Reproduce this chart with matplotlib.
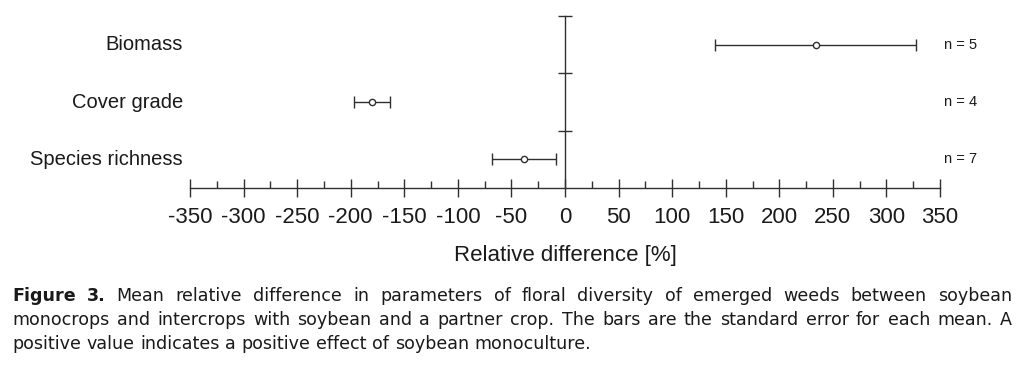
import numpy as np
from matplotlib import pyplot as plt
from matplotlib.ticker import MultipleLocator

plt.rcParams["axes.unicode_minus"] = False

categories = ["Species richness", "Cover grade", "Biomass"]
means = [-38, -180, 234]
errors = [30, 17, 94]
n_obs = [7, 4, 5]

caption_lines = [
    "Figure 3. Mean relative difference in parameters of floral diversity of emerged weeds between soybean",
    "monocrops and intercrops with soybean and a partner crop. The bars are the standard error for each mean. A",
    "positive value indicates a positive effect of soybean monoculture.",
]

W, H = 1024, 371
line_col = "#303030"
text_col = "#1a1a1a"

fig = plt.figure(figsize=(W / 100, H / 100), dpi=100)
ax = fig.add_axes([190 / W, 1 - 188 / H, 750 / W, 172 / H])
ax.patch.set_alpha(0)

ypos = np.arange(len(categories)) + 0.5
ax.errorbar(means, ypos, xerr=errors, fmt="o", mfc="white", mec=line_col, ms=4.5, mew=1,
            ecolor=line_col, elinewidth=1, capsize=4, capthick=1, zorder=3)

ax.set_xlim(-350, 350)
ax.set_ylim(0, 3)
for s in ["top", "right"]:
    ax.spines[s].set_visible(False)
ax.spines["left"].set_position(("data", 0))
for s in ["left", "bottom"]:
    ax.spines[s].set_color(line_col)
    ax.spines[s].set_linewidth(1)

ax.set_yticks([1, 2, 3])
ax.tick_params(axis="y", direction="inout", length=10, width=1, color=line_col, labelleft=False)
ax.xaxis.set_major_locator(MultipleLocator(50))
ax.xaxis.set_minor_locator(MultipleLocator(25))
ax.tick_params(axis="x", which="major", direction="inout", length=13, width=1, color=line_col,
               pad=7, labelsize=16, labelcolor=text_col)
ax.tick_params(axis="x", which="minor", direction="in", length=5, width=1, color=line_col)
for lab in ax.get_xticklabels():
    lab.set_family("Liberation Sans")

for y, cat, n in zip(ypos, categories, n_obs):
    ax.annotate(cat, xy=(0, y), xycoords=("axes fraction", "data"), xytext=(-5, 0),
                textcoords="offset points", ha="right", va="center", fontsize=14.5,
                family="Liberation Sans", color=text_col)
    ax.annotate(f"n = {n}", xy=(1, y), xycoords=("axes fraction", "data"), xytext=(3, 0),
                textcoords="offset points", ha="left", va="center", fontsize=10.5,
                family="Liberation Sans", color=text_col)

fig.text(565 / W, 1 - 256 / H, "Relative difference [%]", ha="center", va="center",
         fontsize=16, family="Liberation Sans", color=text_col)

# caption, justified word by word like the source
renderer = fig.canvas.get_renderer()
cap_size = 12.6
x0, x1 = 12, 1012
line_y = [296, 320, 344]
t1 = fig.text(0, 0, "a a", fontsize=cap_size, family="DejaVu Sans")
t2 = fig.text(0, 0, "aa", fontsize=cap_size, family="DejaVu Sans")
space_w = t1.get_window_extent(renderer).width - t2.get_window_extent(renderer).width
t1.remove()
t2.remove()

for i, line in enumerate(caption_lines):
    words = line.split()
    texts = []
    for j, w in enumerate(words):
        bold = (i == 0 and j < 2)
        t = fig.text(0, 1 - line_y[i] / H, w, fontsize=cap_size, family="DejaVu Sans",
                     weight="bold" if bold else "normal", va="center", ha="left", color=text_col)
        texts.append(t)
    widths = [t.get_window_extent(renderer).width for t in texts]
    if i < len(caption_lines) - 1:
        gap = (x1 - x0 - sum(widths)) / (len(words) - 1)
    else:
        gap = space_w
    x = x0
    for t, w in zip(texts, widths):
        t.set_x(x / W)
        x += w + gap

fig.savefig("out.png", dpi=100)
